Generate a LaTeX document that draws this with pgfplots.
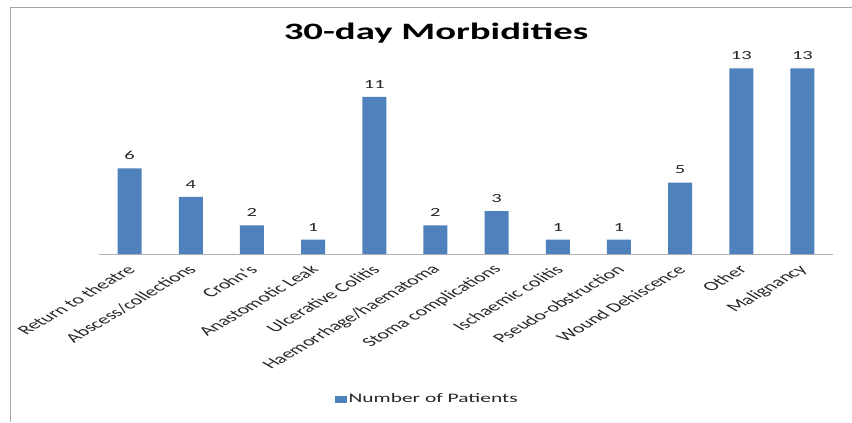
\documentclass[border=0pt]{standalone}
\usepackage{pgfplots}
\pgfplotsset{compat=1.18}
\usepackage{fontspec}
\setmainfont{Carlito}[FakeStretch=1.65]
\newfontfamily\plainfont{Carlito}
\definecolor{barblue}{HTML}{4F81BD}
\definecolor{txt}{HTML}{262626}
\begin{document}
\begin{tikzpicture}[x=1bp,y=1bp]
\useasboundingbox (0,0) rectangle (852,422);
\draw[color=gray!70, line width=1.6bp] (10.5,0) -- (10.5,414.5) -- (852,414.5);
\node[font=\fontsize{23.5bp}{26bp}\selectfont\bfseries, text=black] at (436,389) {30-day Morbidities};
\begin{axis}[
  at={(99bp,168bp)}, anchor=south west,
  scale only axis, width=734bp, height=200bp,
  xmin=-0.5, xmax=11.5, ymin=0, ymax=14,
  axis x line=bottom, axis y line=none,
  x axis line style={-, draw=gray!60, line width=0.8bp},
  xtick={0,...,11},
  xticklabels={Return to theatre, Abscess/collections, Crohn's, Anastomotic Leak, Ulcerative Colitis, Haemorrhage/haematoma, Stoma complications, Ischaemic colitis, Pseudo-obstruction, Wound Dehiscence, Other, Malignancy},
  major tick length=0pt,
  xticklabel style={font=\plainfont\fontsize{13bp}{15bp}\selectfont, text=txt, anchor=east, xshift=4bp, yshift=-12bp, cm={1.2,0.7071,-1.2,0.7071,(0,0)}, inner sep=2bp},
  ybar, bar width=24bp,
  /pgf/number format/assume math mode=true,
  nodes near coords,
  nodes near coords style={font=\fontsize{12.4bp}{14bp}\selectfont, text=txt, yshift=5bp},
  legend style={at={(0.447,-0.725)}, anchor=center, draw=none, fill=none, font=\fontsize{13bp}{15bp}\selectfont, text=txt},
  legend image code/.code={\fill[barblue] (0bp,-3.5bp) rectangle (12bp,3.5bp);},
]
\addplot[fill=barblue, draw=none] coordinates {
(0,6) (1,4) (2,2) (3,1) (4,11) (5,2) (6,3) (7,1) (8,1) (9,5) (10,13) (11,13)};
\addlegendentry{Number of Patients}
\end{axis}
\end{tikzpicture}
\end{document}
